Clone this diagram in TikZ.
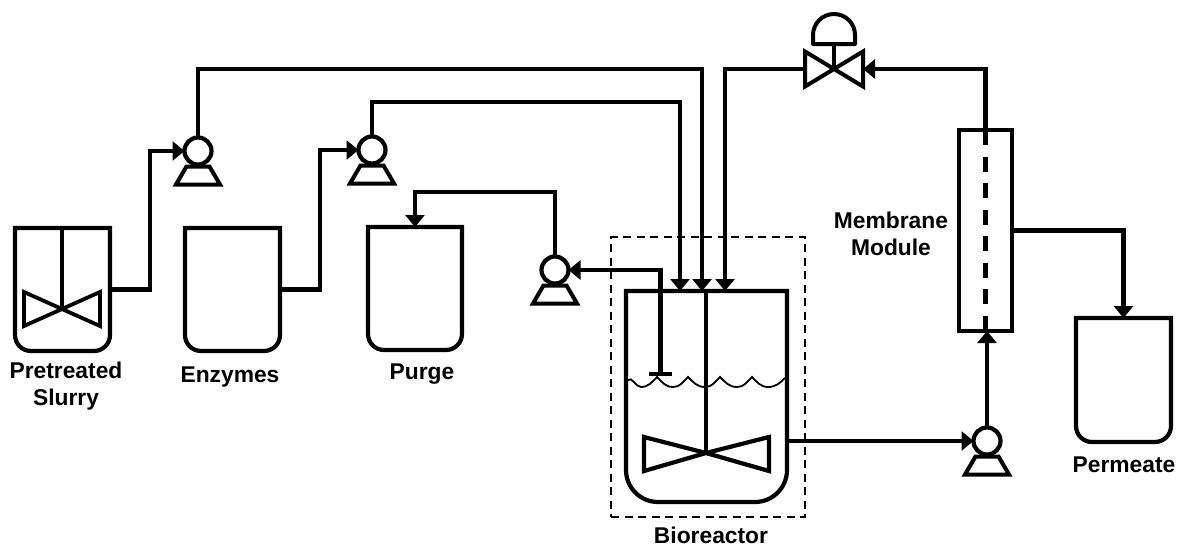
\documentclass[tikz,border=0pt]{standalone}
\usepackage{fontspec}
\setmainfont{Liberation Sans}
\usetikzlibrary{arrows.meta,calc}
\tikzset{
  pipe/.style={line width=4.2pt,line join=miter},
  feed/.style={pipe,-{Triangle[length=12pt,width=19pt]}},
  vessel/.style={rectangle,inner sep=0pt,outer sep=0pt},
  pumphead/.style={circle,draw,line width=4.2pt,inner sep=0pt,outer sep=0pt,minimum size=27pt},
  outline/.style={line width=4.2pt,line join=miter},
  lbl/.style={font=\fontsize{22.8}{26.5}\selectfont\bfseries,align=center,inner sep=0pt},
}
% name, x1, y1, x2, y2, corner radius
\newcommand{\mytank}[6]{%
  \node[vessel,minimum width={#4pt-#2pt},minimum height={#5pt-#3pt}] (#1) at ({(#2+#4)/2},{(#3+#5)/2}) {};
  \draw[outline] (#1.north west) [rounded corners=#6pt] -- (#1.south west) -- (#1.south east) [sharp corners] -- (#1.north east) -- cycle;
}
% name, x, y
\newcommand{\mypump}[3]{%
  \node[pumphead] (#1) at (#2,#3) {};
  \draw[line width=4pt,line join=miter] ($(#1.center)+(-11.5,15.5)$) -- ($(#1.center)+(-22,33.5)$) -- ($(#1.center)+(22,33.5)$) -- ($(#1.center)+(11.5,15.5)$) -- cycle;
}
\begin{document}
\begin{tikzpicture}[x=1pt,y=-1pt]
\useasboundingbox (0,0) rectangle (1177,546);
% tanks
\mytank{slurry}{15}{228}{110}{351}{16}
\mytank{enzymes}{185}{228}{280}{351}{16}
\mytank{purge}{368}{227}{462}{350}{16}
\mytank{permeate}{1076}{318}{1171}{442}{16}
\mytank{bio}{626}{291}{787}{502}{32}
% dashed boundary
\node[vessel,draw,line width=2pt,dash pattern=on 8pt off 5.5pt,minimum width=194pt,minimum height=280pt] (skid) at (708,377) {};
% stirrers
\coordinate (imp1) at (62,309);
\draw[line width=3.6pt] (imp1 |- slurry.north) -- (imp1);
\draw[line width=3.8pt,line join=miter] (imp1) -- (24,292) -- (24,326) -- cycle (imp1) -- (100,292) -- (100,326) -- cycle;
\coordinate (imp2) at (706,453);
\draw[line width=3.8pt] (imp2 |- bio.north) -- (imp2);
\draw[line width=4.2pt,line join=miter] (imp2) -- (644,437) -- (644,471) -- cycle (imp2) -- (769,437) -- (769,471) -- cycle;
% liquid level
\draw[line width=1.8pt] (628,380) to[out=45,in=180] (641,387) to[out=0,in=225] (657,377)
  to[out=-45,in=180] (673,387) to[out=0,in=225] (688,377)
  to[out=-45,in=180] (705,387) to[out=0,in=225] (720,377)
  to[out=-45,in=180] (737,387) to[out=0,in=225] (752,377)
  to[out=-45,in=180] (768,387) to[out=0,in=225] (785,378);
% pumps
\mypump{pumpa}{198}{151}
\mypump{pumpb}{372}{150}
\mypump{pumpc}{555}{270}
\mypump{pumpd}{987}{441}
% membrane
\node[vessel,draw,line width=4.2pt,minimum width=53pt,minimum height=201pt] (mem) at (985.5,230.5) {};
\draw[line width=4.2pt,dash pattern=on 15pt off 11.57pt] (mem.north) -- (mem.south);
% valve
\node[vessel,minimum width=58pt,minimum height=35pt] (valve) at (834,69) {};
\draw[line width=4pt,line join=miter] (valve.center) -- (valve.north west) -- (valve.south west) -- cycle
  (valve.center) -- (valve.north east) -- (valve.south east) -- cycle;
\draw[line width=3.8pt] (valve.center) -- (834,44);
\draw[line width=4pt,line join=round] (813,35) arc[start angle=180,end angle=360,radius=21] -- (855,44) -- (813,44) -- cycle;
% dip tube
\node[vessel,fill=black,minimum width=23pt,minimum height=4pt] (dip) at (660.5,374) {};
% routing points
\coordinate (r1) at (150,151);
\coordinate (r2) at (320,150);
\coordinate (r3) at (702,69);
\coordinate (r4) at (680,102);
\coordinate (r5) at (725,69);
\coordinate (r6) at (415,192);
% connectors
\draw[feed] (slurry.east) -| (r1) -- (pumpa.west);
\draw[feed] (enzymes.east) -| (r2) -- (pumpb.west);
\draw[feed] (pumpa.north) |- (r3) -- (r3 |- bio.north);
\draw[feed] (pumpb.north) |- (r4) -- (r4 |- bio.north);
\draw[feed] (valve.west) -- (r5) -- (r5 |- bio.north);
\draw[feed] (dip.north) |- (pumpc.east);
\draw[feed] (pumpc.north) |- (r6) -- (r6 |- purge.north);
\draw[feed] (bio.east |- pumpd.west) -- (pumpd.west);
\draw[feed] (pumpd.north) -- (pumpd.north |- mem.south);
\draw[feed] (mem.north) |- (valve.east);
\draw[feed] (mem.east) -| (permeate.north);
% labels
\node[lbl] (tslurry) at (66,386) {Pretreated\\Slurry};
\node[lbl] (tenz) at (230,377) {Enzymes};
\node[lbl] (tpurge) at (422,374) {Purge};
\node[lbl] (tbio) at (711,535) {Bioreactor};
\node[lbl] (tmem) at (891,234) {Membrane\\Module};
\node[lbl] (tperm) at (1124,465) {Permeate};
\end{tikzpicture}
\end{document}
